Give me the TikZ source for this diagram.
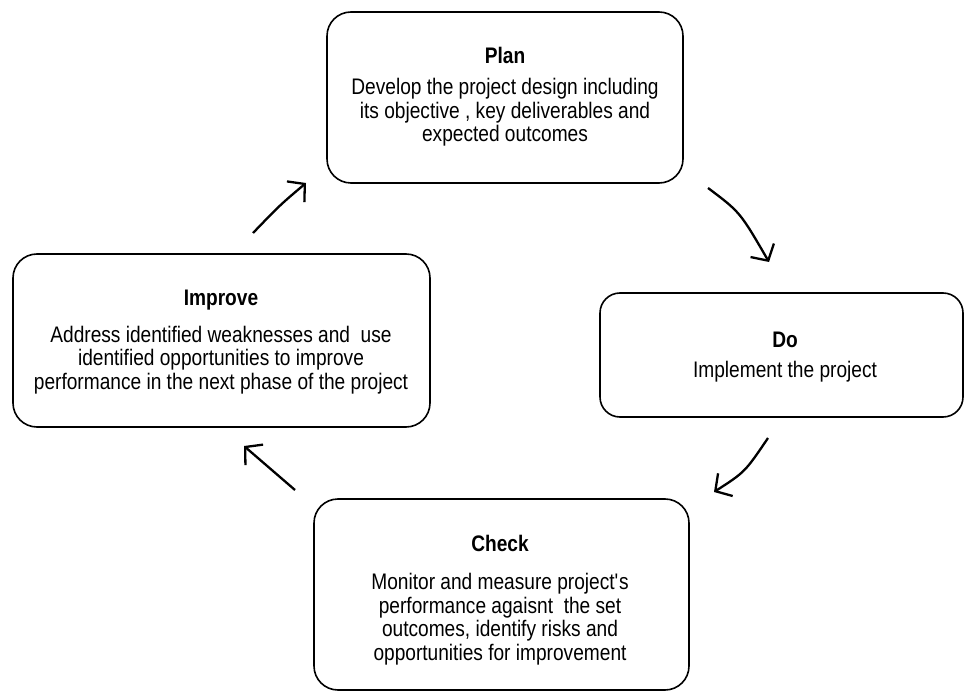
\documentclass[tikz,border=0pt]{standalone}
\usepackage{fontspec}
\setmainfont[FakeStretch=0.85]{Liberation Sans}
\usetikzlibrary{arrows.meta}

\begin{document}
\begin{tikzpicture}[x=1pt, y=-1pt,
  phase/.style={draw, line width=1.6pt, rounded corners=24pt, inner sep=0pt},
  heading/.style={font=\fontsize{22.5}{23.5}\selectfont\bfseries, inner sep=0pt},
  body/.style={font=\fontsize{22.5}{23.5}\selectfont, align=center, inner sep=0pt},
  flow/.style={line width=2.3pt, -{Straight Barb[length=12pt, width=27pt, line width=2.3pt]}}
]
\useasboundingbox (0,0) rectangle (966,692);

% the four phase boxes
\node[phase, minimum width=356pt, minimum height=171pt] (plan)    at (505,97.5)  {};
\node[phase, minimum width=363pt, minimum height=124pt, rounded corners=20pt] (do) at (781.5,355) {};
\node[phase, minimum width=417pt, minimum height=173pt] (improve) at (221.5,340.5) {};
\node[phase, minimum width=375pt, minimum height=191pt] (check)   at (501.5,594.5) {};

% box texts
\node[heading] (planT) at (505,55) {Plan};
\node[body] (planB) at (505,112.5) {Develop the project design including\\its objective , key deliverables and\\expected outcomes};

\node[heading] (doT) at (785,340) {Do};
\node[body] (doB) at (785,372) {Implement the project};

\node[heading] (improveT) at (221,300) {Improve};
\node[body] (improveB) at (221,360) {Address identified weaknesses and\ \ use\\identified opportunities to improve\\performance in the next phase of the project};

\node[heading] (checkT) at (500,543) {Check};
\node[body] (checkB) at (500,619) {Monitor and measure project\textquotesingle s\\performance agaisnt\ \ the set\\outcomes, identify risks and\\opportunities for improvement};

% arrow ends in the gaps between the boxes
\coordinate (a1s) at (708,188);
\coordinate (a1e) at (769,262);
\coordinate (a2s) at (768,438);
\coordinate (a2e) at (714,492);
\coordinate (a3s) at (295,490);
\coordinate (a3e) at (244,446);
\coordinate (a4s) at (253,233);
\coordinate (a4e) at (306,183);

% cycle arrows
\draw[flow] (a1s) .. controls (740,212) .. (a1e);
\draw[flow] (a2s) .. controls (745,472) .. (a2e);
\draw[flow] (a3s) -- (a3e);
\draw[flow] (a4s) .. controls (280,205) .. (a4e);
\end{tikzpicture}
\end{document}
